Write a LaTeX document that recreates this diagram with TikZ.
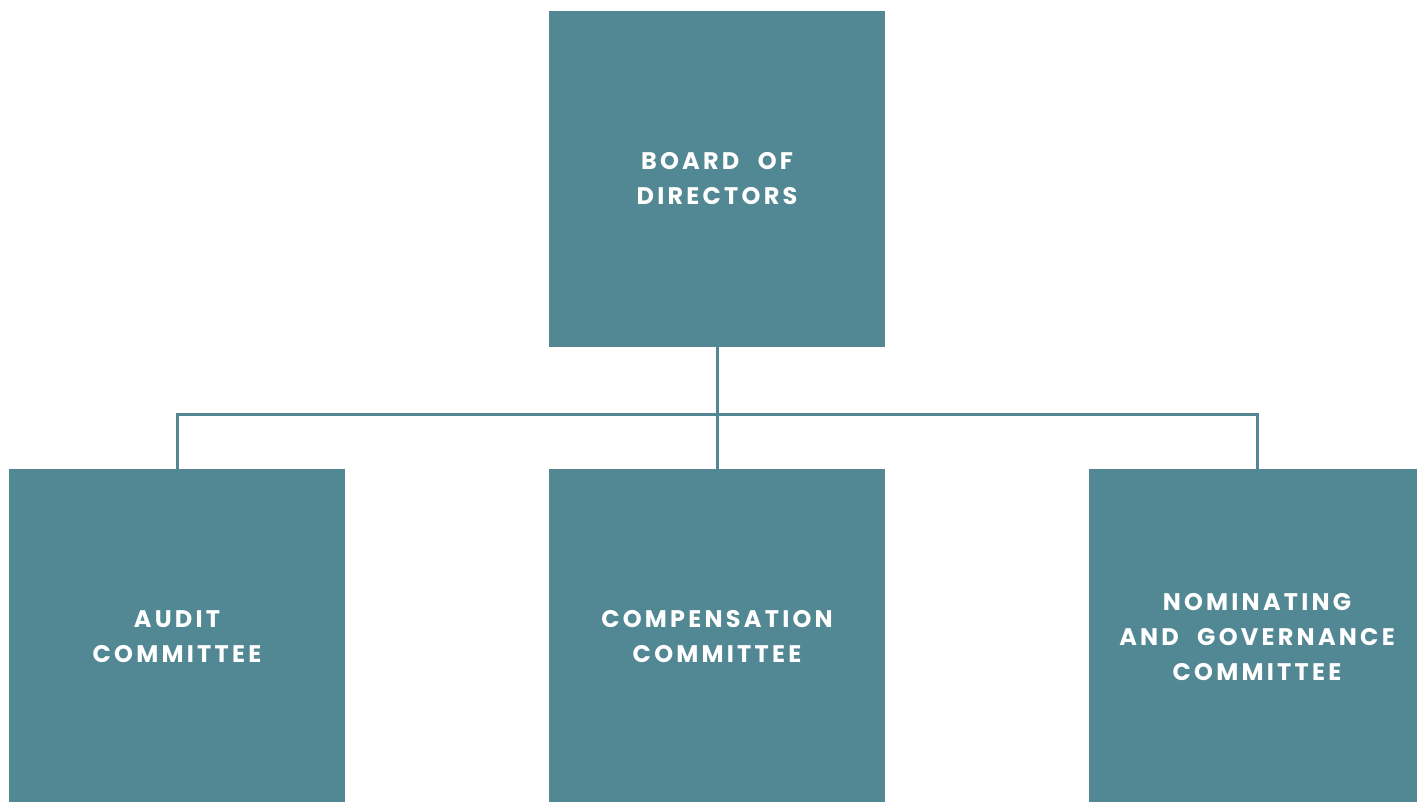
\documentclass[tikz,border=0pt]{standalone}
\usepackage{fontspec}
\setmainfont{Poppins}[LetterSpace=13.5, WordSpace=2.2]
\definecolor{teal}{HTML}{528893}
\begin{document}
\begin{tikzpicture}[x=1pt,y=-1pt,
  box/.style={fill=teal, draw=none, minimum width=336pt, minimum height=336pt, inner sep=0pt,
    text=white, align=center, font=\fontsize{24}{35}\selectfont\bfseries},
  conn/.style={draw=teal, line width=3pt}]
\useasboundingbox (0,0) rectangle (1417,801);
\node[box] (board) at (717,179) {BOARD OF\\DIRECTORS};
\node[box] (audit) at (177,637) {AUDIT\\COMMITTEE};
\node[box] (comp) at (717,637) {COMPENSATION\\COMMITTEE};
\node[box] (nom) at (1257,637) {NOMINATING\\AND GOVERNANCE\\COMMITTEE};
\coordinate (j) at (717,414);
\draw[conn] (board.south) -- (comp.north);
\draw[conn] (audit.north) |- (j) -| (nom.north);
\end{tikzpicture}
\end{document}
